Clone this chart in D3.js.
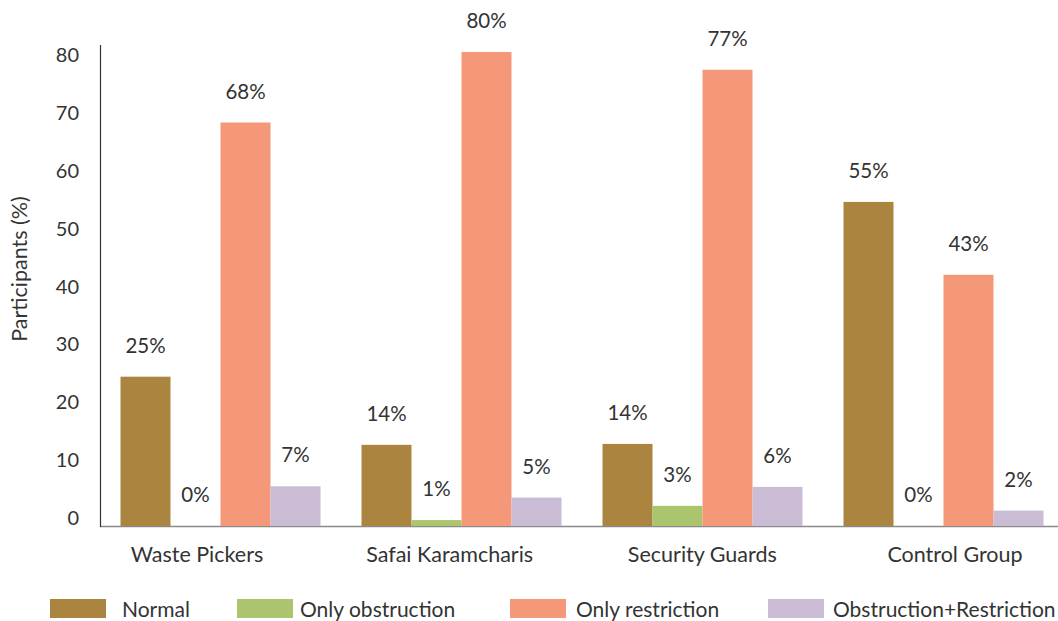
<!DOCTYPE html>
<html><head><meta charset="utf-8">
<script src="https://cdn.jsdelivr.net/npm/d3@7"></script>
<style>body{margin:0;background:#fff}text{font-family:Lato,"Open Sans",sans-serif;fill:#333}</style>
</head><body><svg id="c" width="1058" height="621"></svg>
<script>
const categories = ["Waste Pickers","Safai Karamcharis","Security Guards","Control Group"];
const seriesNames = ["Normal","Only obstruction","Only restriction","Obstruction+Restriction"];
const colors = ["#AB8540","#ABC46E","#F59779","#C9BCD4"];
const normal = [25.2, 13.7, 13.85, 54.7];
const onlyObstruction = [0, 1.0, 3.4, 0];
const onlyRestriction = [68.1, 80.0, 77.0, 42.4];
const obstructionRestriction = [6.7, 4.8, 6.6, 2.6];
const normalLabels = ["25%","14%","14%","55%"];
const obstructionLabels = ["0%","1%","3%","0%"];
const restrictionLabels = ["68%","80%","77%","43%"];
const bothLabels = ["7%","5%","6%","2%"];
const yTicks = [0,10,20,30,40,50,60,70,80];

const series = [normal, onlyObstruction, onlyRestriction, obstructionRestriction];
const labels = [normalLabels, obstructionLabels, restrictionLabels, bothLabels];

const svg = d3.select("#c");
const y = d3.scaleLinear().domain([0,80]).range([526,52]);
const x0 = d3.scaleBand().domain(categories).range([100,1064]).paddingInner(41/241).paddingOuter(20.5/241);
const x1 = d3.scaleBand().domain(seriesNames).range([0,x0.bandwidth()]);
const xLabel = d3.scalePoint().domain(categories).range([197,955]);

// axes lines
svg.append("line").attr("x1",100).attr("x2",1058).attr("y1",526.5).attr("y2",526.5).attr("stroke","#8a8a8a").attr("stroke-width",1.5);
svg.append("line").attr("x1",100.5).attr("x2",100.5).attr("y1",45).attr("y2",527).attr("stroke","#333").attr("stroke-width",1.2);

// y tick labels
const tickPos = d3.scaleLinear().domain([0,80]).range([518,55]);
svg.append("g").selectAll("text").data(yTicks).join("text")
  .attr("x",79).attr("y",d=>tickPos(d)).attr("dy","0.35em").attr("text-anchor","end")
  .attr("font-size",20).text(d=>d);

svg.append("text").attr("transform","translate(27,269) rotate(-90)").attr("text-anchor","middle")
  .attr("font-size",21.5).text("Participants (%)");

// bars
const g = svg.append("g");
categories.forEach((c,i)=>{
  seriesNames.forEach((s,j)=>{
    const v = series[j][i];
    const bx = x0(c)+x1(s);
    g.append("rect").attr("x",bx).attr("width",x1.bandwidth())
      .attr("y",y(v)).attr("height",y(0)-y(v)).attr("fill",colors[j]);
    g.append("text").attr("x",bx+x1.bandwidth()/2).attr("y",y(v)-24)
      .attr("text-anchor","middle").attr("font-size",20.5).text(labels[j][i]);
  });
});

// category labels
svg.append("g").selectAll("text").data(categories).join("text")
  .attr("x",d=>xLabel(d)).attr("y",562).attr("text-anchor","middle")
  .attr("font-size",21.5).text(d=>d);

// legend
const legX = [50,237,510,768];
const legT = [122,300,576,833];
const lg = svg.append("g");
seriesNames.forEach((s,j)=>{
  lg.append("rect").attr("x",legX[j]).attr("y",599).attr("width",56).attr("height",19).attr("fill",colors[j]);
  lg.append("text").attr("x",legT[j]).attr("y",617).attr("font-size",21).text(s);
});
</script></body></html>
